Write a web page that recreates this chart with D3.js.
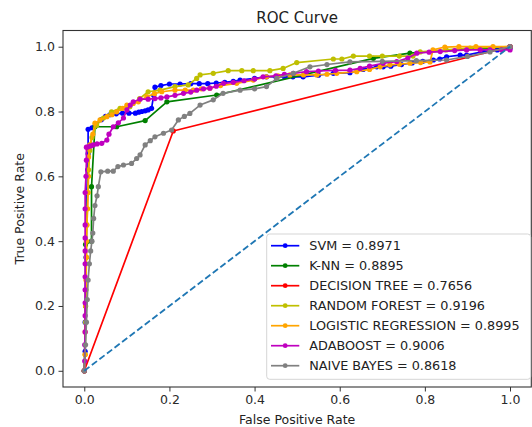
<!DOCTYPE html>
<html>
<head>
<meta charset="utf-8">
<script src="https://cdn.jsdelivr.net/npm/d3@7"></script>
<style>
  body { margin: 0; background: #fff; }
  text { font-family: "DejaVu Sans", sans-serif; fill: #222; }
</style>
</head>
<body>
<svg id="roc" width="532" height="427"></svg>
<script>
var svg = d3.select("#roc");

// model names, AUC values and legend order
var modelNames = ["SVM", "K-NN", "DECISION TREE", "RANDOM FOREST", "LOGISTIC REGRESSION", "ADABOOST", "NAIVE BAYES"];
var aucValues = [0.8971, 0.8895, 0.7656, 0.9196, 0.8995, 0.9006, 0.8618];
var modelColors = ["#0000ff", "#008000", "#ff0000", "#bfbf00", "#ffa500", "#bf00bf", "#808080"];

var tickValues = [0.0, 0.2, 0.4, 0.6, 0.8, 1.0];

// [fpr, tpr] pairs
var svmPoints = [[0,0],[0.002,0.06],[0.002,0.15],[0.003,0.25],[0.004,0.35],[0.005,0.45],[0.006,0.55],[0.008,0.62],[0.009,0.67],[0.009,0.745],[0.018,0.75],[0.025,0.755],[0.04,0.775],[0.05,0.785],[0.06,0.79],[0.075,0.793],[0.09,0.795],[0.105,0.795],[0.12,0.795],[0.128,0.798],[0.135,0.8],[0.143,0.802],[0.15,0.805],[0.158,0.81],[0.163,0.85],[0.166,0.875],[0.18,0.88],[0.2,0.885],[0.225,0.885],[0.25,0.886],[0.27,0.886],[0.29,0.886],[0.31,0.888],[0.33,0.89],[0.35,0.893],[0.366,0.897],[0.4,0.902],[0.428,0.907],[0.45,0.907],[0.47,0.907],[0.49,0.907],[0.514,0.907],[0.55,0.912],[0.585,0.918],[0.624,0.92],[0.655,0.93],[0.687,0.938],[0.702,0.938],[0.72,0.94],[0.745,0.945],[0.77,0.95],[0.795,0.955],[0.82,0.959],[0.835,0.962],[0.851,0.969],[0.883,0.974],[0.898,0.974],[0.937,0.985],[0.97,0.99],[1,0.995],[1,1]];

var knnPoints = [[0,0],[0.003,0.2],[0.003,0.39],[0.017,0.4],[0.017,0.568],[0.025,0.753],[0.076,0.753],[0.143,0.772],[0.194,0.83],[0.311,0.851],[0.679,0.964],[0.765,0.98],[1,1]];

var treePoints = [[0,0],[0.209,0.74],[1,1]];

var forestPoints = [[0,0],[0.002,0.05],[0.003,0.15],[0.004,0.25],[0.005,0.35],[0.006,0.45],[0.008,0.55],[0.01,0.62],[0.013,0.68],[0.018,0.72],[0.029,0.758],[0.045,0.78],[0.064,0.799],[0.084,0.81],[0.107,0.815],[0.13,0.84],[0.15,0.861],[0.178,0.866],[0.213,0.877],[0.244,0.882],[0.264,0.902],[0.272,0.913],[0.303,0.918],[0.338,0.926],[0.37,0.926],[0.397,0.926],[0.436,0.926],[0.467,0.933],[0.499,0.951],[0.585,0.962],[0.605,0.962],[0.632,0.971],[0.67,0.971],[0.7,0.971],[0.74,0.971],[0.772,0.971],[0.789,0.984],[0.85,0.99],[0.906,0.996],[1,1]];

var logregPoints = [[0,0],[0.002,0.05],[0.002,0.12],[0.003,0.2],[0.004,0.28],[0.005,0.35],[0.005,0.4],[0.006,0.45],[0.008,0.5],[0.009,0.55],[0.01,0.6],[0.01,0.66],[0.013,0.697],[0.02,0.73],[0.025,0.764],[0.037,0.774],[0.053,0.784],[0.065,0.79],[0.076,0.799],[0.09,0.81],[0.1,0.82],[0.115,0.825],[0.127,0.83],[0.147,0.846],[0.165,0.855],[0.182,0.861],[0.213,0.866],[0.237,0.866],[0.256,0.866],[0.275,0.87],[0.295,0.872],[0.32,0.88],[0.358,0.887],[0.397,0.897],[0.428,0.907],[0.455,0.91],[0.483,0.913],[0.515,0.913],[0.546,0.913],[0.57,0.915],[0.593,0.918],[0.64,0.923],[0.67,0.93],[0.695,0.938],[0.718,0.944],[0.74,0.946],[0.765,0.949],[0.79,0.951],[0.812,0.953],[0.819,0.99],[0.847,0.999],[0.88,1],[0.92,1],[0.96,1],[1,1]];

var adaPoints = [[0,0],[0.001,0.03],[0.001,0.08],[0.002,0.12],[0.002,0.17],[0.002,0.21],[0.002,0.25],[0.002,0.29],[0.002,0.33],[0.002,0.37],[0.002,0.41],[0.002,0.45],[0.002,0.5],[0.002,0.55],[0.004,0.6],[0.005,0.65],[0.005,0.69],[0.009,0.691],[0.015,0.694],[0.021,0.697],[0.03,0.7],[0.041,0.702],[0.053,0.712],[0.058,0.73],[0.068,0.753],[0.08,0.765],[0.092,0.78],[0.1,0.805],[0.108,0.82],[0.115,0.83],[0.131,0.838],[0.15,0.838],[0.166,0.84],[0.18,0.842],[0.194,0.845],[0.213,0.85],[0.233,0.856],[0.25,0.86],[0.264,0.866],[0.28,0.87],[0.295,0.872],[0.31,0.878],[0.327,0.887],[0.35,0.89],[0.375,0.895],[0.4,0.9],[0.42,0.907],[0.45,0.91],[0.47,0.915],[0.491,0.918],[0.522,0.923],[0.55,0.925],[0.59,0.927],[0.624,0.928],[0.648,0.933],[0.67,0.94],[0.702,0.949],[0.734,0.954],[0.76,0.965],[0.781,0.98],[0.81,0.983],[0.836,0.985],[0.87,0.988],[0.898,0.99],[0.93,0.99],[0.953,0.99],[0.98,0.99],[1,0.99],[1,1]];

var bayesPoints = [[0,0],[0.003,0.08],[0.005,0.15],[0.007,0.22],[0.009,0.28],[0.012,0.33],[0.015,0.37],[0.018,0.4],[0.02,0.425],[0.022,0.47],[0.025,0.51],[0.03,0.54],[0.033,0.568],[0.039,0.614],[0.055,0.616],[0.068,0.616],[0.079,0.63],[0.092,0.635],[0.111,0.64],[0.123,0.655],[0.131,0.666],[0.143,0.697],[0.155,0.71],[0.166,0.722],[0.186,0.733],[0.205,0.743],[0.221,0.774],[0.235,0.785],[0.248,0.794],[0.272,0.82],[0.303,0.836],[0.326,0.856],[0.366,0.866],[0.4,0.87],[0.428,0.877],[0.452,0.902],[0.491,0.918],[0.53,0.938],[0.57,0.945],[0.624,0.953],[0.7,0.955],[0.78,0.957],[0.851,0.959],[0.9,0.97],[0.953,0.984],[1,1]];

var chancePoints = [[0,0],[1,1]];

var modelPoints = [svmPoints, knnPoints, treePoints, forestPoints, logregPoints, adaPoints, bayesPoints];

// plot area (matplotlib style 5% margins)
var plotLeft = 63, plotRight = 531.3, plotTop = 30.5, plotBottom = 387;

var xScale = d3.scaleLinear().domain([-0.05, 1.05]).range([plotLeft, plotRight]);
var yScale = d3.scaleLinear().domain([-0.05, 1.05]).range([plotBottom, plotTop]);

var line = d3.line()
  .x(function (d) { return xScale(d[0]); })
  .y(function (d) { return yScale(d[1]); });

function plotCurves() {
  var g = svg.append("g").attr("class", "curves");
  modelPoints.forEach(function (points, i) {
    g.append("path")
      .datum(points)
      .attr("d", line)
      .attr("fill", "none")
      .attr("stroke", modelColors[i])
      .attr("stroke-width", 1.7)
      .attr("stroke-linejoin", "round");
    g.selectAll(null)
      .data(points)
      .enter()
      .append("circle")
      .attr("cx", function (d) { return xScale(d[0]); })
      .attr("cy", function (d) { return yScale(d[1]); })
      .attr("r", 2.6)
      .style("fill", modelColors[i]);
  });

  //chance diagonal
  g.append("path")
    .datum(chancePoints)
    .attr("d", line)
    .attr("fill", "none")
    .attr("stroke", "#1f77b4")
    .attr("stroke-width", 1.8)
    .attr("stroke-dasharray", "6.5,3");
}

function plotAxis() {
  var bottomAxis = d3.axisBottom(xScale).tickValues(tickValues).tickFormat(d3.format(".1f")).tickSize(4.5).tickPadding(3.5);
  var gx = svg.append("g")
    .attr("transform", "translate(0," + plotBottom + ")")
    .call(bottomAxis);

  var leftAxis = d3.axisLeft(yScale).tickValues(tickValues).tickFormat(d3.format(".1f")).tickSize(4.5).tickPadding(3.5);
  var gy = svg.append("g")
    .attr("transform", "translate(" + plotLeft + ",0)")
    .call(leftAxis);

  [gx, gy].forEach(function (g) {
    g.select(".domain").remove();
    g.selectAll("line").attr("stroke", "#333");
    g.selectAll("text").style("font-size", "12.5px").style("fill", "#2a2a2a");
  });

  // frame
  svg.append("rect")
    .attr("x", plotLeft)
    .attr("y", plotTop)
    .attr("width", plotRight - plotLeft)
    .attr("height", plotBottom - plotTop)
    .attr("fill", "none")
    .attr("stroke", "#333")
    .attr("stroke-width", 1.1);

  svg.append("text")
    .attr("x", (plotLeft + plotRight) / 2)
    .attr("y", 23)
    .attr("text-anchor", "middle")
    .style("font-size", "15px")
    .text("ROC Curve");

  svg.append("text")
    .attr("x", (plotLeft + plotRight) / 2)
    .attr("y", 424)
    .attr("text-anchor", "middle")
    .style("font-size", "12.5px")
    .text("False Positive Rate");

  //y label, rotated
  svg.append("text")
    .attr("transform", "translate(23.5," + ((plotTop + plotBottom) / 2) + ")rotate(-90)")
    .attr("text-anchor", "middle")
    .style("font-size", "12.5px")
    .text("True Positive Rate");
}

function plotLegend() {
  var lg = svg.append("g").attr("class", "legend");
  lg.append("rect")
    .attr("x", 266.7)
    .attr("y", 234)
    .attr("width", 264)
    .attr("height", 145.3)
    .attr("rx", 3)
    .attr("fill", "#fff")
    .attr("fill-opacity", 0.8)
    .attr("stroke", "#d5d5d5");

  modelNames.forEach(function (name, i) {
    var yy = 245.7 + i * 20;
    lg.append("line")
      .attr("x1", 271).attr("x2", 299.3)
      .attr("y1", yy).attr("y2", yy)
      .attr("stroke", modelColors[i])
      .attr("stroke-width", 1.7);
    lg.append("circle")
      .attr("cx", 285.2).attr("cy", yy)
      .attr("r", 2.4)
      .style("fill", modelColors[i]);
    lg.append("text")
      .attr("x", 309.3)
      .attr("y", yy)
      .attr("dy", "0.36em")
      .style("font-size", "12.8px")
      .text(name + " = " + aucValues[i].toFixed(4));
  });
}

plotCurves();
plotAxis();
plotLegend();
</script>
</body>
</html>
